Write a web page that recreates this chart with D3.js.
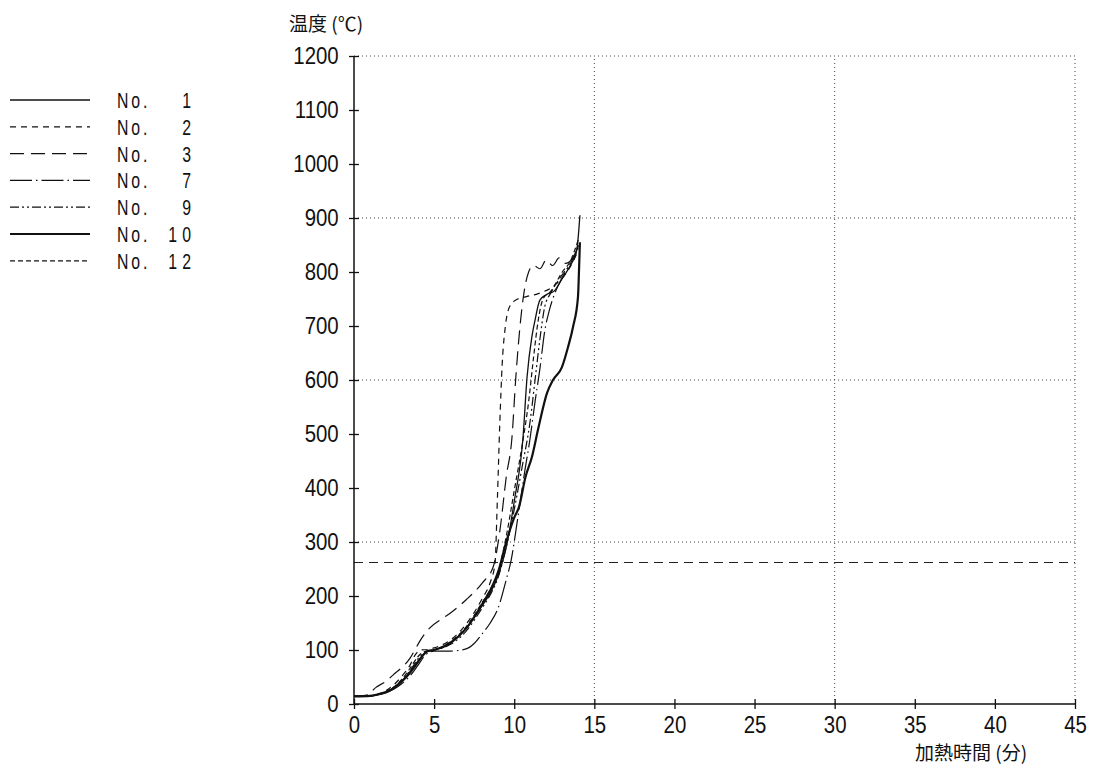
<!DOCTYPE html>
<html><head><meta charset="utf-8">
<script src="https://cdn.jsdelivr.net/npm/d3@7"></script>
<style>
body{margin:0;background:#fff;}
svg{display:block;}
.num{font-family:"Liberation Sans",Arial,sans-serif;font-size:24px;fill:#111;}
.leg{font-family:"Liberation Sans",Arial,sans-serif;font-size:22px;fill:#111;}
.jp{font-family:"Noto Sans CJK JP",sans-serif;fill:#111;}
</style>
</head><body>
<svg id="c" width="1094" height="771"></svg>
<script>
// ---- data ----
const seriesNames = ["No.  1","No.  2","No.  3","No.  7","No.  9","No.10","No.12"];
const xTicks = [0,5,10,15,20,25,30,35,40,45];
const yTicks = [0,100,200,300,400,500,600,700,800,900,1000,1100,1200];
const gridX = [15,30,45];
const gridY = [300,600,900,1200];
const refTemp = 262;

const no1Time = [0,1,1.5,2,2.5,3,3.5,4,4.5,5,6,7,8,8.5,9,9.5,10,10.55,10.8,11.1,11.3,11.6,12,12.5,13,13.5,13.9,14.1];
const no1Temp = [14,15,17,22,30,43,60,80,96,100,112,140,182,205,238,290,375,494,605,680,711,748,758,765,788,812,840,905];

const no2Time = [0,1,1.5,2,2.5,3,3.5,3.8,4.2,4.6,5,6,7,8,8.5,8.8,8.95,9.1,9.25,9.45,9.7,10.1,10.7,11.5,12.5,13.5,14];
const no2Temp = [14,15,18,25,36,52,72,90,100,101,104,118,148,195,225,260,380,520,630,700,735,748,754,760,775,810,840];

const no3Time = [0,1,1.2,2,2.45,3,3.5,3.8,4.1,4.7,5.5,6,7,8,8.7,9.1,9.5,9.86,10.1,10.4,10.6,10.9,11.2,11.6,12,12.4,12.8,13.2,13.6,14];
const no3Temp = [14,18,26,42,54,68,85,100,116,140,158,168,193,224,255,320,420,494,605,711,760,800,812,806,822,812,826,816,824,850];

const no7Time = [0,1,1.5,2,2.5,3,3.5,4,4.5,5,6,7,7.5,8,8.5,9,9.5,9.8,10.2,10.6,11,11.3,11.6,11.9,12.2,12.5,13,13.5,14];
const no7Temp = [14,15,17,21,28,38,52,72,92,98,98,102,112,130,150,178,230,265,340,420,494,560,620,690,730,758,790,815,848];

const no9Time = [0,1,1.5,2,2.5,3,3.5,4,4.5,5,6,7,8,8.5,9,9.5,10,10.5,11,11.3,11.6,11.9,12.3,13,13.6,14];
const no9Temp = [14,15,18,23,31,44,62,84,97,100,110,135,178,202,235,290,360,440,525,600,675,735,762,795,820,845];

const no10Time = [0,1,1.5,2,2.5,3,3.5,4,4.3,4.6,5,6,7,8,8.5,9,9.5,10,10.3,10.7,11.1,11.5,12.05,12.42,12.98,13.36,13.67,13.98,14.05,14.1];
const no10Temp = [14,15,18,22,30,42,58,78,90,98,100,113,140,185,210,245,300,345,365,420,457,510,576,600,624,661,698,754,809,855];

const no12Time = [0,1,1.5,2,2.5,3,3.5,4,4.5,5,6,7,8,8.5,9,9.5,10,10.5,10.9,11.2,11.5,11.8,12.3,13,13.5,14];
const no12Temp = [14,15,18,23,32,46,66,88,98,100,115,143,188,212,245,310,395,480,560,640,711,750,765,800,820,860];

const seriesTimes = [no1Time,no2Time,no3Time,no7Time,no9Time,no10Time,no12Time];
const seriesTemps = [no1Temp,no2Temp,no3Temp,no7Temp,no9Temp,no10Temp,no12Temp];

// ---- styles ----
const dashes = [null,"6,5","14,7","22,4,1.5,4","9,3,2,3,2,3",null,"5,3"];
const widths = [1.3,1.2,1.2,1.2,1.2,2.2,1.2];

const svg = d3.select("#c");
const x = d3.scaleLinear().domain([0,45]).range([354,1075]);
const y = d3.scaleLinear().domain([0,1200]).range([704,56]);

// grid
svg.append("g").selectAll("line").data(gridY).join("line")
  .attr("x1",x(0)).attr("x2",x(45)).attr("y1",d=>y(d)).attr("y2",d=>y(d))
  .attr("stroke","#444").attr("stroke-width",1).attr("stroke-dasharray","1,3");
svg.append("g").selectAll("line").data(gridX).join("line")
  .attr("x1",d=>x(d)).attr("x2",d=>x(d)).attr("y1",y(0)).attr("y2",y(1200))
  .attr("stroke","#444").attr("stroke-width",1).attr("stroke-dasharray","1,3");

// reference dashed line
svg.append("line").attr("x1",x(0)).attr("x2",x(45)).attr("y1",y(refTemp)).attr("y2",y(refTemp))
  .attr("stroke","#222").attr("stroke-width",1.2).attr("stroke-dasharray","9,6");

// axes
const xAxis = d3.axisBottom(x).tickValues(xTicks).tickSize(6).tickPadding(6).tickFormat(d3.format("d"));
const gx = svg.append("g").attr("transform",`translate(0,${y(0)})`).call(xAxis);
gx.select(".domain").attr("stroke","#111").attr("stroke-width",1.5).attr("d",`M${x(0)},0H${x(45)}`);
gx.selectAll(".tick line").attr("y1",-5).attr("y2",5).attr("stroke","#111").attr("stroke-width",1.3);
gx.selectAll(".tick text").attr("class","num").attr("font-family",null).attr("font-size",null).attr("fill",null)
  .attr("transform","scale(0.85,1)");

const yAxis = d3.axisLeft(y).tickValues(yTicks).tickSize(6).tickPadding(12).tickFormat(d3.format("d"));
const gy = svg.append("g").attr("transform",`translate(${x(0)},0)`).call(yAxis);
gy.select(".domain").attr("stroke","#111").attr("stroke-width",1.5).attr("d",`M0,${y(0)}V${y(1200)}`);
gy.selectAll(".tick line").attr("x1",-5).attr("x2",5).attr("stroke","#111").attr("stroke-width",1.3);
gy.selectAll(".tick text").attr("class","num").attr("font-family",null).attr("font-size",null).attr("fill",null)
  .attr("transform","scale(0.85,1)");

// series
const line = d3.line().x(d=>x(d[0])).y(d=>y(d[1])).curve(d3.curveMonotoneX);
seriesTimes.forEach((ts,i)=>{
  const pts = ts.map((t,j)=>[t,seriesTemps[i][j]]);
  svg.append("path").attr("d",line(pts)).attr("fill","none")
    .attr("stroke","#111").attr("stroke-width",widths[i])
    .attr("stroke-dasharray",dashes[i]).attr("stroke-linejoin","round");
});

// legend
const lg = svg.append("g");
seriesNames.forEach((n,i)=>{
  const yy = 100 + i*26.8;
  lg.append("line").attr("x1",10).attr("x2",90).attr("y1",yy).attr("y2",yy)
    .attr("stroke","#111").attr("stroke-width",widths[i]).attr("stroke-dasharray",dashes[i]);
  const parts = n.split(".");
  lg.append("text").attr("class","leg").attr("transform",`translate(117,${yy+8}) scale(0.72,1)`)
    .attr("letter-spacing","4px").text(parts[0]+".");
  lg.append("text").attr("class","leg").attr("transform",`translate(196,${yy+8}) scale(0.72,1)`)
    .attr("text-anchor","end").attr("letter-spacing","7px").text(parts[1].trim());
});

// axis titles
svg.append("text").attr("class","jp").attr("x",289).attr("y",31).attr("font-size",19).text("温度 (℃)");
svg.append("text").attr("class","jp").attr("x",915).attr("y",760).attr("font-size",19).text("加熱時間 (分)");
</script>
</body></html>
